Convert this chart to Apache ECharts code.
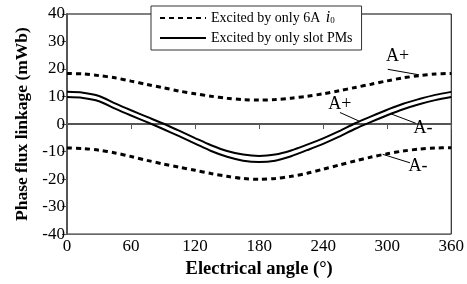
<!DOCTYPE html>
<html>
<head>
<meta charset="utf-8">
<script src="https://cdn.jsdelivr.net/npm/echarts@6/dist/echarts.min.js"></script>
<style>
  html, body { margin: 0; padding: 0; background: #fff; }
  #chart { width: 467px; height: 284px; }
</style>
</head>
<body>
<div id="chart"></div>
<script>
// electrical angle (deg)
const angles = [0, 15, 30, 45, 60, 75, 90, 105, 120, 135, 150, 165, 180, 195, 210, 225, 240, 255, 270, 285, 300, 315, 330, 345, 360]
// excited by only 6A i0
const currentAPlus = [18.4, 18.2, 17.6, 16.8, 15.6, 14.4, 13.2, 12.0, 11.0, 10.1, 9.4, 8.9, 8.7, 8.9, 9.4, 10.1, 11.0, 12.1, 13.3, 14.5, 15.7, 16.8, 17.6, 18.2, 18.4]
const currentAMinus = [-8.7, -8.9, -9.5, -10.5, -11.8, -13.2, -14.5, -15.7, -16.8, -18.0, -19.0, -19.8, -20.1, -19.8, -19.0, -17.9, -16.4, -14.9, -13.4, -12.0, -10.8, -9.8, -9.1, -8.7, -8.6]
// excited by only slot PMs
const pmAPlus = [11.7, 11.4, 10.2, 7.5, 5.0, 2.6, 0.2, -2.4, -5.1, -7.7, -9.8, -11.1, -11.6, -11.1, -9.6, -7.5, -5.2, -2.6, 0.3, 2.8, 5.2, 7.4, 9.1, 10.6, 11.7]
const pmAMinus = [9.8, 9.5, 8.3, 5.6, 3.1, 0.7, -1.8, -4.4, -7.1, -9.8, -11.9, -13.3, -13.8, -13.3, -11.7, -9.5, -7.2, -4.6, -1.7, 0.8, 3.2, 5.4, 7.2, 8.7, 9.8]
const xTicks = [0, 60, 120, 180, 240, 300, 360]
const yTicks = [-40, -30, -20, -10, 0, 10, 20, 30, 40]

const font = 'Liberation Serif'
const zip = (ys) => angles.map((a, i) => [a, ys[i]])

// leader lines + labels, in data coords
const notes = {
  cp: { label: 'A+', text: [309.7, 24.6], line: [[300.5, 19.9], [329.7, 17.9]] },
  pp: { label: 'A+', text: [255.7, 7.3], line: [[255.7, 4.2], [273.5, 1.1]] },
  pm: { label: 'A-', text: [333.5, -1.4], line: [[326.7, 0.3], [303.5, 3.7]] },
  cm: { label: 'A-', text: [328.8, -15.3], line: [[321.4, -14.1], [295.8, -11.0]] }
}

function extras (n) {
  return {
    markLine: {
      silent: true,
      symbol: 'none',
      animation: false,
      label: { show: false },
      lineStyle: { color: '#000', width: 1, type: 'solid' },
      data: [[{ coord: n.line[0] }, { coord: n.line[1] }]]
    },
    markPoint: {
      silent: true,
      animation: false,
      symbol: 'circle',
      symbolSize: 0,
      label: { show: true, position: 'inside', color: '#000', fontFamily: font, fontSize: 18 },
      data: [{ coord: n.text, value: n.label }]
    }
  }
}

const chart = echarts.init(document.getElementById('chart'))

const dashed = { color: '#000', width: 3, type: [5, 4] }
const solid = { color: '#000', width: 2, type: 'solid' }

const option = {
  animation: false,
  grid: {
    left: 67, right: 11, top: 14, bottom: 47,
    show: true, borderColor: '#000', borderWidth: 1
  },
  legend: {
    left: 151,
    top: 6,
    orient: 'vertical',
    backgroundColor: '#fff',
    borderColor: '#333',
    borderWidth: 1,
    padding: [4, 9, 5, 8],
    itemWidth: 46,
    itemHeight: 14,
    itemGap: 5,
    itemStyle: { color: 'transparent', borderWidth: 0, opacity: 0 },
    textStyle: {
      fontFamily: font,
      fontSize: 14,
      color: '#000',
      rich: {
        n: { fontFamily: font, fontSize: 14, color: '#000' },
        i: { fontFamily: font, fontSize: 16, fontStyle: 'italic', color: '#000', padding: [0, 0, 0, 2] },
        s: { fontFamily: font, fontSize: 9, color: '#000', padding: [5, 0, 0, 0] }
      }
    },
    data: ['Excited by only 6A i0', 'Excited by only slot PMs'],
    formatter: (name) => {
      if (name === 'Excited by only 6A i0') return '{n|Excited by only 6A }{i|i}{s|0}'
      return name
    }
  },
  xAxis: {
    type: 'value',
    min: 0,
    max: 360,
    interval: 60,
    name: 'Electrical angle (°)',
    nameLocation: 'middle',
    nameGap: 23,
    nameTextStyle: { fontFamily: font, fontSize: 18.5, fontWeight: 'bold', color: '#000' },
    axisLine: { show: true, lineStyle: { color: '#555', width: 2 } },
    axisTick: { show: true, inside: false, length: 5, lineStyle: { color: '#555', width: 1 } },
    axisLabel: {
      fontFamily: font, fontSize: 17, color: '#000', margin: 4,
      formatter: (v) => (xTicks.includes(v) ? String(v) : '')
    },
    splitLine: { show: false }
  },
  yAxis: {
    type: 'value',
    min: -40,
    max: 40,
    interval: 10,
    name: 'Phase flux linkage (mWb)',
    nameLocation: 'middle',
    nameRotate: 90,
    nameGap: 35,
    nameTextStyle: { fontFamily: font, fontSize: 17.5, fontWeight: 'bold', color: '#000' },
    axisLine: { show: true, lineStyle: { color: '#555', width: 2 } },
    axisTick: { show: true, inside: false, length: 5, lineStyle: { color: '#555', width: 1 } },
    axisLabel: {
      fontFamily: font, fontSize: 17, color: '#000', margin: 2,
      formatter: (v) => (yTicks.includes(v) ? String(v) : '')
    },
    splitLine: { show: false }
  },
  series: [
    Object.assign({
      name: 'Excited by only 6A i0', type: 'line', data: zip(currentAPlus),
      symbol: 'none', smooth: 0.3, lineStyle: dashed, itemStyle: { color: '#000' }
    }, extras(notes.cp)),
    Object.assign({
      name: 'Excited by only 6A i0', type: 'line', data: zip(currentAMinus),
      symbol: 'none', smooth: 0.3, lineStyle: dashed, itemStyle: { color: '#000' }
    }, extras(notes.cm)),
    Object.assign({
      name: 'Excited by only slot PMs', type: 'line', data: zip(pmAPlus),
      symbol: 'none', smooth: 0.3, lineStyle: solid, itemStyle: { color: '#000' }
    }, extras(notes.pp)),
    Object.assign({
      name: 'Excited by only slot PMs', type: 'line', data: zip(pmAMinus),
      symbol: 'none', smooth: 0.3, lineStyle: solid, itemStyle: { color: '#000' }
    }, extras(notes.pm))
  ]
}

chart.setOption(option)
</script>
</body>
</html>
